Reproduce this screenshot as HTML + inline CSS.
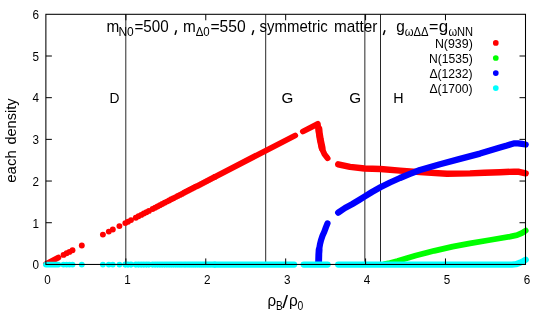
<!DOCTYPE html>
<html><head><meta charset="utf-8"><style>
html,body{margin:0;padding:0;background:#fff;}
svg{display:block;will-change:transform;}
text{font-family:"Liberation Sans",sans-serif;fill:#000;}
</style></head><body>
<svg width="545" height="327" viewBox="0 0 545 327">
<rect width="545" height="327" fill="#fff"/>
<line x1="125.8" y1="14.3" x2="125.8" y2="264.45" stroke="#000" stroke-width="0.85"/><line x1="265.7" y1="14.3" x2="265.7" y2="264.45" stroke="#000" stroke-width="0.85"/><line x1="364.85" y1="14.3" x2="364.85" y2="264.45" stroke="#000" stroke-width="0.85"/><line x1="380.5" y1="14.3" x2="380.5" y2="264.45" stroke="#000" stroke-width="0.85"/>
<text x="106.41" y="32.4" font-size="15.9" textLength="12.79" lengthAdjust="spacingAndGlyphs">m</text><text x="118.43" y="35.7" font-size="12.8" textLength="15.32" lengthAdjust="spacingAndGlyphs">N0</text><text x="134.46" y="32.4" font-size="15.9" textLength="34.21" lengthAdjust="spacingAndGlyphs">=500</text><line x1="176.45" y1="30.2" x2="175.05" y2="34.9" stroke="#000" stroke-width="1.5"/><text x="183.11" y="32.4" font-size="15.9" textLength="12.79" lengthAdjust="spacingAndGlyphs">m</text><text x="195.71" y="35.7" font-size="12.8" textLength="14.05" lengthAdjust="spacingAndGlyphs">Δ0</text><text x="210.44" y="32.4" font-size="15.9" textLength="35.28" lengthAdjust="spacingAndGlyphs">=550</text><line x1="253.65" y1="30.2" x2="252.15" y2="34.9" stroke="#000" stroke-width="1.5"/><text x="259.6" y="32.4" font-size="15.9" textLength="68.16" lengthAdjust="spacingAndGlyphs">symmetric</text><text x="333.91" y="32.4" font-size="15.9" textLength="43.42" lengthAdjust="spacingAndGlyphs">matter</text><line x1="384.95" y1="30.2" x2="383.35" y2="34.9" stroke="#000" stroke-width="1.5"/><text x="396.25" y="32.4" font-size="15.9" textLength="8.57" lengthAdjust="spacingAndGlyphs">g</text><text x="404.7" y="35.7" font-size="12.8" textLength="23.81" lengthAdjust="spacingAndGlyphs">ωΔΔ</text><text x="429.14" y="32.4" font-size="15.9" textLength="9.38" lengthAdjust="spacingAndGlyphs">=</text><text x="438.88" y="32.4" font-size="15.9" textLength="9.45" lengthAdjust="spacingAndGlyphs">g</text><text x="448.45" y="35.7" font-size="12.8" textLength="24.69" lengthAdjust="spacingAndGlyphs">ωNN</text><text x="434.91" y="47.6" font-size="12.3" textLength="37.88" lengthAdjust="spacingAndGlyphs">N(939)</text><text x="428.91" y="62.6" font-size="12.3" textLength="43.78" lengthAdjust="spacingAndGlyphs">N(1535)</text><text x="429.39" y="77.7" font-size="12.3" textLength="43.25" lengthAdjust="spacingAndGlyphs">Δ(1232)</text><text x="429.39" y="92.8" font-size="12.3" textLength="43.25" lengthAdjust="spacingAndGlyphs">Δ(1700)</text><text x="109.39" y="102.6" font-size="13.8" textLength="9.97" lengthAdjust="spacingAndGlyphs">D</text><text x="281.55" y="102.7" font-size="13.8" textLength="11.83" lengthAdjust="spacingAndGlyphs">G</text><text x="349.15" y="102.7" font-size="13.8" textLength="11.83" lengthAdjust="spacingAndGlyphs">G</text><text x="393.38" y="102.6" font-size="13.8" textLength="10.34" lengthAdjust="spacingAndGlyphs">H</text><text x="267.43" y="305.9" font-size="16.5" textLength="8.61" lengthAdjust="spacingAndGlyphs">ρ</text><text x="275.92" y="309.9" font-size="12.6" textLength="6.74" lengthAdjust="spacingAndGlyphs">B</text><text x="282.28" y="308.3" font-size="18.4" textLength="5.8" lengthAdjust="spacingAndGlyphs">/</text><text x="288.93" y="305.9" font-size="16.5" textLength="8.76" lengthAdjust="spacingAndGlyphs">ρ</text><text x="297.42" y="309.9" font-size="12.6" textLength="5.76" lengthAdjust="spacingAndGlyphs">0</text>

<polyline points="46.0,264.0 58.3,257.6" fill="none" stroke="#ff0000" stroke-width="5.9" stroke-linecap="round" stroke-linejoin="round"/><circle cx="63.5" cy="254.9" r="2.95" fill="#ff0000"/><circle cx="66.6" cy="253.3" r="2.95" fill="#ff0000"/><circle cx="69.4" cy="251.9" r="2.95" fill="#ff0000"/><circle cx="72.5" cy="250.3" r="2.95" fill="#ff0000"/><circle cx="81.8" cy="245.5" r="2.95" fill="#ff0000"/><circle cx="102.9" cy="234.6" r="2.95" fill="#ff0000"/><circle cx="108.8" cy="231.6" r="2.95" fill="#ff0000"/><circle cx="112.8" cy="229.5" r="2.95" fill="#ff0000"/><circle cx="119.4" cy="226.1" r="2.95" fill="#ff0000"/><circle cx="125.3" cy="223.1" r="2.95" fill="#ff0000"/><circle cx="128.0" cy="221.7" r="2.95" fill="#ff0000"/><circle cx="131.0" cy="220.1" r="2.95" fill="#ff0000"/><circle cx="135.8" cy="217.7" r="2.95" fill="#ff0000"/><circle cx="138.5" cy="216.3" r="2.95" fill="#ff0000"/><circle cx="141.2" cy="214.9" r="2.95" fill="#ff0000"/><circle cx="143.8" cy="213.5" r="2.95" fill="#ff0000"/><circle cx="146.4" cy="212.2" r="2.95" fill="#ff0000"/><circle cx="148.9" cy="210.9" r="2.95" fill="#ff0000"/><circle cx="152.6" cy="209.0" r="2.95" fill="#ff0000"/><circle cx="155.1" cy="207.7" r="2.95" fill="#ff0000"/><circle cx="157.5" cy="206.5" r="2.95" fill="#ff0000"/><circle cx="159.9" cy="205.2" r="2.95" fill="#ff0000"/><circle cx="162.2" cy="204.0" r="2.95" fill="#ff0000"/><circle cx="164.6" cy="202.8" r="2.95" fill="#ff0000"/><circle cx="166.9" cy="201.6" r="2.95" fill="#ff0000"/><circle cx="169.1" cy="200.5" r="2.95" fill="#ff0000"/><circle cx="171.3" cy="199.3" r="2.95" fill="#ff0000"/><circle cx="173.5" cy="198.2" r="2.95" fill="#ff0000"/><circle cx="175.7" cy="197.1" r="2.95" fill="#ff0000"/><circle cx="177.8" cy="196.0" r="2.95" fill="#ff0000"/><circle cx="179.9" cy="194.9" r="2.95" fill="#ff0000"/><circle cx="181.9" cy="193.9" r="2.95" fill="#ff0000"/><circle cx="184.0" cy="192.8" r="2.95" fill="#ff0000"/><circle cx="185.9" cy="191.8" r="2.95" fill="#ff0000"/><circle cx="187.9" cy="190.8" r="2.95" fill="#ff0000"/><circle cx="189.8" cy="189.8" r="2.95" fill="#ff0000"/><circle cx="191.8" cy="188.8" r="2.95" fill="#ff0000"/><circle cx="193.7" cy="187.8" r="2.95" fill="#ff0000"/><circle cx="195.6" cy="186.8" r="2.95" fill="#ff0000"/><circle cx="197.5" cy="185.9" r="2.95" fill="#ff0000"/><circle cx="199.4" cy="184.9" r="2.95" fill="#ff0000"/><circle cx="201.3" cy="183.9" r="2.95" fill="#ff0000"/><circle cx="203.2" cy="182.9" r="2.95" fill="#ff0000"/><circle cx="205.1" cy="181.9" r="2.95" fill="#ff0000"/><circle cx="207.0" cy="181.0" r="2.95" fill="#ff0000"/><circle cx="208.9" cy="180.0" r="2.95" fill="#ff0000"/><circle cx="210.8" cy="179.0" r="2.95" fill="#ff0000"/><circle cx="212.7" cy="178.0" r="2.95" fill="#ff0000"/><circle cx="214.6" cy="177.0" r="2.95" fill="#ff0000"/><polyline points="215.0,176.8 295.2,135.5" fill="none" stroke="#ff0000" stroke-width="5.9" stroke-linecap="round" stroke-linejoin="round"/><polyline points="302.9,131.5 317.8,123.8 318.6,131.0 320.2,139.6 322.0,148.8 324.5,154.2 327.6,158.2" fill="none" stroke="#ff0000" stroke-width="5.9" stroke-linecap="round" stroke-linejoin="round"/><polyline points="318.9,129.0 319.2,132.5 320.3,139.6 322.1,148.0" fill="none" stroke="#ff0000" stroke-width="7.0" stroke-linecap="round" stroke-linejoin="round"/><polyline points="338.2,164.3 350.0,166.9 364.5,168.5 380.4,169.0 400.0,170.6 420.0,172.1 447.0,173.8 470.0,173.4 484.3,172.8 500.0,172.2 514.0,171.6 519.0,171.8 525.7,173.3" fill="none" stroke="#ff0000" stroke-width="6.4" stroke-linecap="round" stroke-linejoin="round"/>
<polyline points="384.5,264.1 390.0,263.0 397.5,261.0 415.9,255.5 434.2,250.8 452.6,246.7 470.0,243.4 490.0,240.0 510.0,236.6 517.0,235.2 522.0,233.0 525.7,230.6" fill="none" stroke="#00ff00" stroke-width="5.8" stroke-linecap="round" stroke-linejoin="round"/>
<polyline points="318.6,262.4 318.8,255.0 319.3,248.6 320.0,244.2 321.0,240.2 322.5,235.8 324.3,231.8 325.9,227.4 327.5,223.4" fill="none" stroke="#0000ff" stroke-width="6.2" stroke-linecap="round" stroke-linejoin="round"/><polyline points="318.7,262.4 319.0,250.0" fill="none" stroke="#0000ff" stroke-width="6.7" stroke-linecap="round" stroke-linejoin="round"/><polyline points="338.2,212.6 345.0,208.0 352.0,204.2 359.5,199.7 364.5,196.6 372.0,192.0 380.4,187.3 390.0,182.5 400.0,178.0 410.0,173.9 420.0,170.0 440.0,164.2 460.0,158.9 480.0,153.6 500.0,147.6 507.0,145.5 511.0,144.2 514.5,143.3 518.0,143.3 522.0,143.9 525.7,144.5" fill="none" stroke="#0000ff" stroke-width="6.3" stroke-linecap="round" stroke-linejoin="round"/>
<polyline points="46.0,264.6 58.3,264.6" fill="none" stroke="#00ffff" stroke-width="5.9" stroke-linecap="round" stroke-linejoin="round"/><circle cx="63.5" cy="264.6" r="2.95" fill="#00ffff"/><circle cx="66.6" cy="264.6" r="2.95" fill="#00ffff"/><circle cx="69.4" cy="264.6" r="2.95" fill="#00ffff"/><circle cx="72.5" cy="264.6" r="2.95" fill="#00ffff"/><circle cx="81.8" cy="264.6" r="2.95" fill="#00ffff"/><circle cx="102.9" cy="264.6" r="2.95" fill="#00ffff"/><circle cx="108.8" cy="264.6" r="2.95" fill="#00ffff"/><circle cx="112.8" cy="264.6" r="2.95" fill="#00ffff"/><circle cx="119.4" cy="264.6" r="2.95" fill="#00ffff"/><circle cx="125.3" cy="264.6" r="3.05" fill="#00ffff"/><circle cx="128.0" cy="264.6" r="3.05" fill="#00ffff"/><circle cx="131.0" cy="264.6" r="3.05" fill="#00ffff"/><circle cx="135.8" cy="264.6" r="3.05" fill="#00ffff"/><circle cx="138.5" cy="264.6" r="3.05" fill="#00ffff"/><circle cx="141.2" cy="264.6" r="3.05" fill="#00ffff"/><circle cx="143.8" cy="264.6" r="3.05" fill="#00ffff"/><circle cx="146.4" cy="264.6" r="3.05" fill="#00ffff"/><circle cx="148.9" cy="264.6" r="3.05" fill="#00ffff"/><circle cx="152.6" cy="264.6" r="3.05" fill="#00ffff"/><circle cx="155.1" cy="264.6" r="3.05" fill="#00ffff"/><circle cx="157.5" cy="264.6" r="3.05" fill="#00ffff"/><circle cx="159.9" cy="264.6" r="3.05" fill="#00ffff"/><circle cx="162.2" cy="264.6" r="3.05" fill="#00ffff"/><circle cx="164.6" cy="264.6" r="3.05" fill="#00ffff"/><circle cx="166.9" cy="264.6" r="3.05" fill="#00ffff"/><circle cx="169.1" cy="264.6" r="3.05" fill="#00ffff"/><circle cx="171.3" cy="264.6" r="3.05" fill="#00ffff"/><circle cx="173.5" cy="264.6" r="3.05" fill="#00ffff"/><circle cx="175.7" cy="264.6" r="3.05" fill="#00ffff"/><circle cx="177.8" cy="264.6" r="3.05" fill="#00ffff"/><circle cx="179.9" cy="264.6" r="3.05" fill="#00ffff"/><circle cx="181.9" cy="264.6" r="3.05" fill="#00ffff"/><circle cx="184.0" cy="264.6" r="3.05" fill="#00ffff"/><circle cx="185.9" cy="264.6" r="3.05" fill="#00ffff"/><circle cx="187.9" cy="264.6" r="3.05" fill="#00ffff"/><circle cx="189.8" cy="264.6" r="3.05" fill="#00ffff"/><circle cx="191.8" cy="264.6" r="3.05" fill="#00ffff"/><circle cx="193.7" cy="264.6" r="3.05" fill="#00ffff"/><circle cx="195.6" cy="264.6" r="3.05" fill="#00ffff"/><circle cx="197.5" cy="264.6" r="3.05" fill="#00ffff"/><circle cx="199.4" cy="264.6" r="3.05" fill="#00ffff"/><circle cx="201.3" cy="264.6" r="3.05" fill="#00ffff"/><circle cx="203.2" cy="264.6" r="3.05" fill="#00ffff"/><circle cx="205.1" cy="264.6" r="3.05" fill="#00ffff"/><circle cx="207.0" cy="264.6" r="3.05" fill="#00ffff"/><circle cx="208.9" cy="264.6" r="3.05" fill="#00ffff"/><circle cx="210.8" cy="264.6" r="3.05" fill="#00ffff"/><circle cx="212.7" cy="264.6" r="3.05" fill="#00ffff"/><circle cx="214.6" cy="264.6" r="3.05" fill="#00ffff"/><polyline points="215.0,264.6 294.1,264.6" fill="none" stroke="#00ffff" stroke-width="6.3" stroke-linecap="round" stroke-linejoin="round"/><polyline points="303.7,264.6 327.6,264.6" fill="none" stroke="#00ffff" stroke-width="6.3" stroke-linecap="round" stroke-linejoin="round"/><polyline points="338.2,264.6 512.0,264.6 516.0,264.2 520.0,262.8 523.0,261.3 525.7,259.8" fill="none" stroke="#00ffff" stroke-width="6.3" stroke-linecap="round" stroke-linejoin="round"/>
<circle cx="495.8" cy="42.95" r="2.85" fill="#ff0000"/><circle cx="495.8" cy="58.0" r="2.85" fill="#00ff00"/><circle cx="495.8" cy="73.05" r="2.85" fill="#0000ff"/><circle cx="495.8" cy="88.1" r="2.85" fill="#00ffff"/>
<g stroke="#000" stroke-width="1.0"><line x1="125.88" y1="264.45" x2="125.88" y2="258.45"/><line x1="125.88" y1="14.3" x2="125.88" y2="20.3"/><line x1="45.88" y1="222.72" x2="51.88" y2="222.72"/><line x1="525.5" y1="222.72" x2="519.5" y2="222.72"/><line x1="205.78" y1="264.45" x2="205.78" y2="258.45"/><line x1="205.78" y1="14.3" x2="205.78" y2="20.3"/><line x1="45.88" y1="181.04" x2="51.88" y2="181.04"/><line x1="525.5" y1="181.04" x2="519.5" y2="181.04"/><line x1="285.68" y1="264.45" x2="285.68" y2="258.45"/><line x1="285.68" y1="14.3" x2="285.68" y2="20.3"/><line x1="45.88" y1="139.36" x2="51.88" y2="139.36"/><line x1="525.5" y1="139.36" x2="519.5" y2="139.36"/><line x1="365.58" y1="264.45" x2="365.58" y2="258.45"/><line x1="365.58" y1="14.3" x2="365.58" y2="20.3"/><line x1="45.88" y1="97.68" x2="51.88" y2="97.68"/><line x1="525.5" y1="97.68" x2="519.5" y2="97.68"/><line x1="445.48" y1="264.45" x2="445.48" y2="258.45"/><line x1="445.48" y1="14.3" x2="445.48" y2="20.3"/><line x1="45.88" y1="56.00" x2="51.88" y2="56.00"/><line x1="525.5" y1="56.00" x2="519.5" y2="56.00"/></g>
<rect x="45.88" y="14.3" width="479.62" height="250.14999999999998" fill="none" stroke="#000" stroke-width="1.05"/>
<g font-size="13.0"><text x="44.23" y="284.1" textLength="6.5" lengthAdjust="spacingAndGlyphs">0</text><text x="32.45" y="269.20" textLength="6.5" lengthAdjust="spacingAndGlyphs">0</text><text x="124.13" y="284.1" textLength="6.5" lengthAdjust="spacingAndGlyphs">1</text><text x="32.45" y="227.52" textLength="6.5" lengthAdjust="spacingAndGlyphs">1</text><text x="204.03" y="284.1" textLength="6.5" lengthAdjust="spacingAndGlyphs">2</text><text x="32.45" y="185.84" textLength="6.5" lengthAdjust="spacingAndGlyphs">2</text><text x="283.93" y="284.1" textLength="6.5" lengthAdjust="spacingAndGlyphs">3</text><text x="32.45" y="144.16" textLength="6.5" lengthAdjust="spacingAndGlyphs">3</text><text x="363.83" y="284.1" textLength="6.5" lengthAdjust="spacingAndGlyphs">4</text><text x="32.45" y="102.48" textLength="6.5" lengthAdjust="spacingAndGlyphs">4</text><text x="443.73" y="284.1" textLength="6.5" lengthAdjust="spacingAndGlyphs">5</text><text x="32.45" y="60.80" textLength="6.5" lengthAdjust="spacingAndGlyphs">5</text><text x="523.63" y="284.1" textLength="6.5" lengthAdjust="spacingAndGlyphs">6</text><text x="32.45" y="19.12" textLength="6.5" lengthAdjust="spacingAndGlyphs">6</text></g>

<text transform="translate(15.75,182.73) rotate(-90)" font-size="15" textLength="32.51" lengthAdjust="spacingAndGlyphs">each</text><text transform="translate(15.75,144.62) rotate(-90)" font-size="15" textLength="46.16" lengthAdjust="spacingAndGlyphs">density</text>
</svg>
</body></html>
